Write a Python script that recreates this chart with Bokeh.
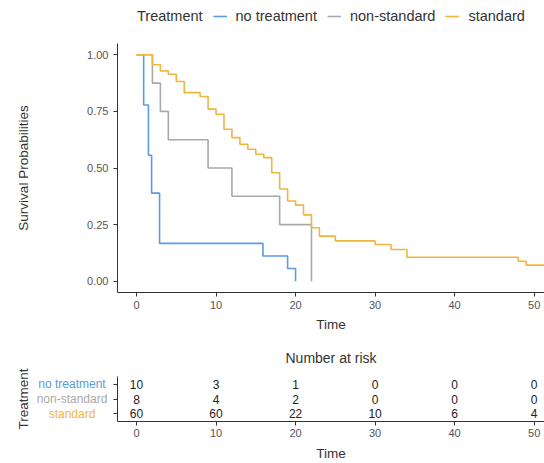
from bokeh.plotting import figure
from bokeh.models import (Legend, LegendItem, FixedTicker, Range1d,
                          NumeralTickFormatter)
from bokeh.layouts import column, row
from bokeh.embed import file_html
from bokeh.resources import INLINE
from bokeh.core.properties import value

# ---------------- data ----------------
legend_title = "Treatment"
groups = ["no treatment", "non-standard", "standard"]
colors = ["#5b9be0", "#a9a9a9", "#f0b53f"]

t_none = [0, 0.9, 1.5, 1.9, 2.9, 15.9, 19.0, 20.0]
s_none = [1.0, 0.778, 0.556, 0.389, 0.167, 0.111, 0.056, 0.0]

t_nonstd = [0, 2, 3, 4, 9, 12, 18, 22]
s_nonstd = [1.0, 0.875, 0.75, 0.625, 0.5, 0.375, 0.25, 0.0]

t_std = [0, 2, 3, 4, 5, 6, 8, 9, 10, 11, 12, 13, 14, 15, 16, 17, 18, 19, 20, 21,
         22, 23, 25, 30, 32, 34, 48, 49, 52]
s_std = [1.0, 0.956, 0.929, 0.914, 0.882, 0.833, 0.816, 0.76, 0.737, 0.671, 0.634,
         0.605, 0.583, 0.561, 0.546, 0.479, 0.407, 0.354, 0.336, 0.293, 0.236, 0.199,
         0.178, 0.162, 0.140, 0.106, 0.088, 0.071, 0.071]

risk_times = [0, 10, 20, 30, 40, 50]
risk_none = [10, 3, 1, 0, 0, 0]
risk_nonstd = [8, 4, 2, 0, 0, 0]
risk_std = [60, 60, 22, 10, 6, 4]

x_ticks = [0, 10, 20, 30, 40, 50]
y_ticks = [0, 0.25, 0.5, 0.75, 1.0]

FONT = "Liberation Sans"
AXIS_COL = "#333333"
TICK_COL = "#555555"
TEXT_COL = "#333333"

x_rng = Range1d(-2.39, 51.3)
curves = [(t_none, s_none), (t_nonstd, s_nonstd), (t_std, s_std)]


def style_axis(ax):
    ax.axis_line_color = AXIS_COL
    ax.major_tick_line_color = AXIS_COL
    ax.major_tick_in = 0
    ax.major_tick_out = 4
    ax.minor_tick_line_color = None
    ax.major_label_text_font = FONT
    ax.major_label_text_font_size = "11px"
    ax.major_label_text_color = TICK_COL
    ax.axis_label_text_font = FONT
    ax.axis_label_text_font_size = "13.5px"
    ax.axis_label_text_font_style = "normal"
    ax.axis_label_text_color = TEXT_COL


def clean(fig):
    fig.outline_line_color = None
    fig.xgrid.visible = False
    fig.ygrid.visible = False


# ---------------- legend strip ----------------
# its view is parked away from the data so only the legend keys show
leg = figure(width=544, height=43, x_range=Range1d(-300, -200), y_range=Range1d(0, 1),
             output_backend="svg", toolbar_location=None,
             x_axis_location=None, y_axis_location=None,
             min_border_left=0, min_border_right=0, min_border_top=0, min_border_bottom=0)
clean(leg)
key_renderers = [leg.step(x=tt, y=ss, mode="after", line_color=c, line_width=1.6)
                 for (tt, ss), c in zip(curves, colors)]
items = [LegendItem(label=legend_title, renderers=[])]
items += [LegendItem(label=g, renderers=[r]) for g, r in zip(groups, key_renderers)]
legend = Legend(items=items, orientation="horizontal", location=(-9, 11))
legend.label_text_font = FONT
legend.label_text_font_size = "14.5px"
legend.label_text_color = TEXT_COL
legend.label_height = 20
legend.glyph_height = 20
legend.glyph_width = 14
legend.label_standoff = 9
legend.spacing = 10
legend.padding = 6
legend.margin = 0
legend.border_line_alpha = 0
legend.background_fill_alpha = 0
leg.add_layout(legend, "center")

# ---------------- survival plot ----------------
p = figure(width=544, height=292, x_range=x_rng, y_range=Range1d(-0.05, 1.05),
           output_backend="svg", toolbar_location=None,
           min_border_left=117, min_border_right=0, min_border_top=0, min_border_bottom=43)
clean(p)

for (tt, ss), c in zip(curves, colors):
    p.step(x=tt, y=ss, mode="after", line_color=c, line_width=1.6)

style_axis(p.xaxis[0])
style_axis(p.yaxis[0])
p.xaxis.ticker = FixedTicker(ticks=x_ticks)
p.xaxis.axis_label = "Time"
p.xaxis.major_label_standoff = 4
p.xaxis.axis_label_standoff = 5

p.yaxis.ticker = FixedTicker(ticks=y_ticks)
p.yaxis.formatter = NumeralTickFormatter(format="0.00")
p.yaxis.axis_label = "Survival Probabilities"
p.yaxis.major_label_standoff = 5
p.yaxis.axis_label_standoff = 53

# ---------------- risk table ----------------
row_y = {"no treatment": 3, "non-standard": 2, "standard": 1}
y_tab = Range1d(0.45, 3.55)

# left part: coloured group names and the "Treatment" title
lab = figure(width=113, height=128, x_range=Range1d(30, 113), y_range=y_tab,
             output_backend="svg", toolbar_location=None, x_axis_location=None,
             min_border_left=30, min_border_right=0, min_border_top=41, min_border_bottom=41)
clean(lab)
lab.text(x=[71.5] * len(groups), y=[row_y[g] for g in groups], text=groups,
         text_color=colors, text_font=value(FONT), text_font_size="12px",
         text_align="center", text_baseline="middle")
ly = lab.yaxis[0]
style_axis(ly)
ly.axis_line_color = None
ly.major_tick_line_color = None
ly.major_tick_out = 0
ly.ticker = FixedTicker(ticks=[])
ly.major_label_text_font_size = "0px"
ly.major_label_standoff = 0
ly.axis_label = "Treatment"
ly.axis_label_standoff = 0

q = figure(width=431, height=128, x_range=x_rng, y_range=y_tab,
           output_backend="svg", toolbar_location=None,
           min_border_left=0, min_border_right=0, min_border_top=41, min_border_bottom=41,
           title="Number at risk")
clean(q)
q.title.text_font = FONT
q.title.text_font_size = "14px"
q.title.text_font_style = "normal"
q.title.text_color = TEXT_COL
q.title.align = "center"
q.title.offset = 6
q.title.standoff = 22

xs, ys, txt = [], [], []
for g, counts in zip(groups, [risk_none, risk_nonstd, risk_std]):
    for t, n in zip(risk_times, counts):
        xs.append(t)
        ys.append(row_y[g])
        txt.append(str(n))
q.text(x=xs, y=ys, text=txt, text_font=value(FONT), text_font_size="12px",
       text_align="center", text_baseline="middle", text_color="#222222")

style_axis(q.xaxis[0])
style_axis(q.yaxis[0])
q.xaxis.ticker = FixedTicker(ticks=x_ticks)
q.xaxis.axis_label = "Time"
q.xaxis.major_label_standoff = 3
q.xaxis.axis_label_standoff = 6

q.yaxis.ticker = FixedTicker(ticks=[row_y[g] for g in groups])
q.yaxis.major_label_overrides = {row_y[g]: "" for g in groups}
q.yaxis.major_label_text_font_size = "0px"
q.yaxis.major_label_standoff = 0

layout = column(leg, p, row(lab, q, spacing=0), spacing=0)
open("out.html", "w").write(file_html(layout, INLINE))
